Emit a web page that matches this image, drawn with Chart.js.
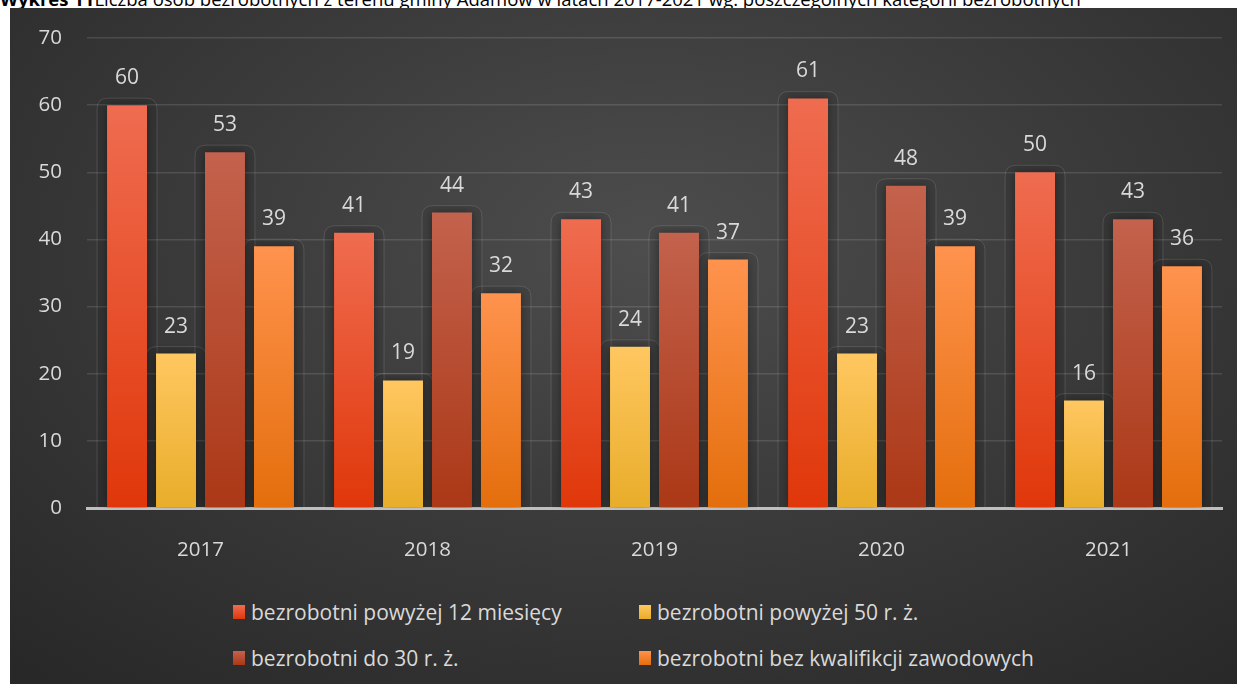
<!DOCTYPE html>
<html>
<head>
<meta charset="utf-8">
<script src="https://cdn.jsdelivr.net/npm/chart.js@4.4.1/dist/chart.umd.min.js"></script>
<style>
  html, body { margin: 0; padding: 0; background: #fff; }
  body { width: 1237px; height: 684px; position: relative; overflow: hidden; font-family: "Open Sans", sans-serif; }
  #title { position: absolute; left: 0; top: -14px; font-size: 18.5px; color: #000; white-space: nowrap; }
  #title b { font-weight: bold; }
  #panel {
    position: absolute; left: 10px; top: 8px; width: 1227px; height: 676px;
    background: radial-gradient(ellipse 75% 85% at 52% 35%, #4d4d4d 0%, #3c3c3c 45%, #282828 100%);
  }
  #chartBox { position: absolute; left: 0; top: 0; width: 1227px; height: 570px; }
  #legend {
    position: absolute; left: 223px; top: 591px;
    display: grid; grid-template-columns: 406px 400px; row-gap: 20px;
  }
  .item { display: flex; align-items: center; color: #d9d9d9; font-size: 21px; height: 26px; }
  .swatch { width: 12px; height: 14px; margin-right: 6px; }
</style>
</head>
<body>
<div id="title"><b>Wykres 11</b>Liczba osób bezrobotnych z terenu gminy Adamów w latach 2017-2021 wg. poszczególnych kategorii bezrobotnych</div>
<div id="panel">
  <div id="chartBox"><canvas id="chart" width="1227" height="570"></canvas></div>
  <div id="legend"></div>
</div>
<script>
// categories and series
var years = ['2017', '2018', '2019', '2020', '2021'];
var seriesNames = [
  'bezrobotni powyżej 12 miesięcy',
  'bezrobotni powyżej 50 r. ż.',
  'bezrobotni do 30 r. ż.',
  'bezrobotni bez kwalifikcji zawodowych'
];
var over12Months = [60, 41, 43, 61, 50];
var over50 = [23, 19, 24, 23, 16];
var under30 = [53, 44, 41, 48, 43];
var noQualif = [39, 32, 37, 39, 36];
var yTicks = [0, 10, 20, 30, 40, 50, 60, 70];

// top / bottom colours of each bar gradient
var topColors = ['#ef6c50', '#ffc760', '#c3624d', '#ff934e'];
var bottomColors = ['#e0370a', '#e8ad2a', '#ab3816', '#e46e0c'];

function barGradient(i) {
    return function(ctx) {
        var chart = ctx.chart;
        var y = chart.scales.y;
        if (!y || ctx.raw === undefined) {
            return topColors[i];
        }
        var top = y.getPixelForValue(ctx.raw);
        var base = y.getPixelForValue(0);
        if (!isFinite(top) || !isFinite(base) || top === base) {
            return topColors[i];
        }
        var g = chart.ctx.createLinearGradient(0, top, 0, base);
        g.addColorStop(0, topColors[i]);
        g.addColorStop(1, bottomColors[i]);
        return g;
    };
}

// soft halo + faint rounded outline behind each bar
var haloPlugin = {
    id: 'halo',
    beforeDatasetsDraw: function(chart) {
        var c = chart.ctx;
        c.save();
        chart.data.datasets.forEach(function(ds, i) {
            chart.getDatasetMeta(i).data.forEach(function(bar) {
                var l = bar.x - bar.width / 2 - 10;
                var r = bar.x + bar.width / 2 + 10;
                var t = bar.y - 7;
                var b = bar.base;
                var rad = 11;
                c.beginPath();
                c.moveTo(l, b);
                c.lineTo(l, t + rad);
                c.quadraticCurveTo(l, t, l + rad, t);
                c.lineTo(r - rad, t);
                c.quadraticCurveTo(r, t, r, t + rad);
                c.lineTo(r, b);
                c.fillStyle = 'rgba(0,0,0,0.07)';
                c.fill();
                c.strokeStyle = 'rgba(255,255,255,0.12)';
                c.lineWidth = 1;
                c.stroke();
            });
        });
        c.restore();
    },
    beforeDatasetDraw: function(chart) {
        var c = chart.ctx;
        c.save();
        c.shadowColor = 'rgba(0,0,0,0.4)';
        c.shadowBlur = 9;
    },
    afterDatasetDraw: function(chart) {
        chart.ctx.restore();
    }
};

// value labels above bars
var valuePlugin = {
    id: 'values',
    afterDatasetsDraw: function(chart) {
        var c = chart.ctx;
        c.save();
        c.font = '21px "Open Sans"';
        c.fillStyle = '#d9d9d9';
        c.textAlign = 'center';
        c.textBaseline = 'middle';
        chart.data.datasets.forEach(function(ds, i) {
            chart.getDatasetMeta(i).data.forEach(function(bar, j) {
                c.fillText(ds.data[j], bar.x, bar.y - 27);
            });
        });
        c.restore();
    }
};

var seriesData = [over12Months, over50, under30, noQualif];
var datasets = seriesData.map(function(d, i) {
    return {
        label: seriesNames[i],
        data: d,
        backgroundColor: barGradient(i),
        borderWidth: 0,
        categoryPercentage: 0.863,
        barPercentage: 0.816
    };
});

var tickFont = { family: 'Open Sans', size: 20.5 };

var chart = new Chart(document.getElementById('chart'), {
    type: 'bar',
    data: { labels: years, datasets: datasets },
    options: {
        responsive: false,
        animation: false,
        layout: { padding: { top: 30, left: 0, right: 15, bottom: 0 } },
        plugins: {
            legend: { display: false },
            tooltip: { enabled: false }
        },
        scales: {
            x: {
                grid: { display: false },
                border: { display: true, color: '#bfbfbf', width: 3 },
                ticks: { color: '#d9d9d9', font: tickFont, padding: 22 },
                afterFit: function(axis) {
                    axis.height = 70;
                    axis.paddingLeft = 0;
                    axis.paddingRight = 0;
                }
            },
            y: {
                min: 0,
                max: 70,
                afterBuildTicks: function(axis) {
                    axis.ticks = yTicks.map(function(v) { return { value: v }; });
                },
                grid: { color: 'rgba(255,255,255,0.12)', lineWidth: 1.5, drawTicks: false },
                border: { display: false },
                ticks: { color: '#d9d9d9', font: tickFont, padding: 25 },
                afterFit: function(axis) {
                    axis.width = 77;
                    axis.paddingTop = 0;
                    axis.paddingBottom = 0;
                }
            }
        }
    },
    plugins: [haloPlugin, valuePlugin]
});

// html legend in a 2x2 grid
var legend = document.getElementById('legend');
seriesNames.forEach(function(name, i) {
    var item = document.createElement('div');
    item.className = 'item';
    var sw = document.createElement('span');
    sw.className = 'swatch';
    sw.style.background = 'linear-gradient(' + topColors[i] + ',' + bottomColors[i] + ')';
    item.appendChild(sw);
    item.appendChild(document.createTextNode(name));
    legend.appendChild(item);
});
</script>
</body>
</html>
